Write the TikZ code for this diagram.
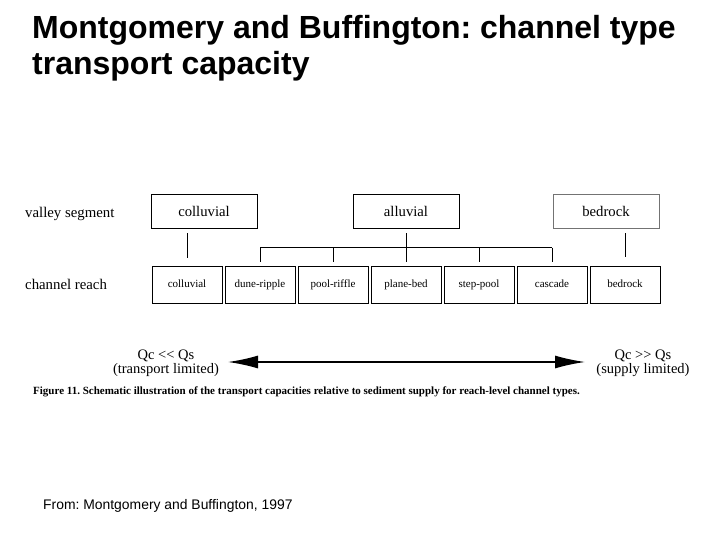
\documentclass[tikz,border=0pt]{standalone}
\usepackage{fontspec}
\setmainfont{Liberation Serif}
\newfontfamily\arial{Liberation Sans}
\usetikzlibrary{arrows.meta, positioning}
\frenchspacing
\tikzset{
  seg/.style={draw, line width=0.8pt, minimum width=106pt, minimum height=34pt, font=\fontsize{14.7}{16}\selectfont},
  reach/.style={draw, line width=0.8pt, minimum width=70pt, minimum height=37pt, text height=1.5ex, text depth=.3ex, font=\fontsize{11}{13}\selectfont},
  lab/.style={anchor=base west, inner sep=0pt, font=\fontsize{14.8}{16}\selectfont},
  link/.style={line width=1pt},
  qlab/.style={align=center, inner sep=0pt, font=\fontsize{14.5}{14}\selectfont},
  head/.style={anchor=base west, inner sep=0pt, font=\arial\bfseries\fontsize{32}{36}\selectfont}
}

\begin{document}
\begin{tikzpicture}[x=1pt, y=-1pt]
  \useasboundingbox[fill=white] (0,0) rectangle (720,540);
  \node[head] (title1) at (32,39) {Montgomery and Buffington: channel type};
  \node[head] (title2) at (32,75) {transport capacity};

  \node[lab] (lv) at (25,218) {valley segment};
  \node[lab] (lr) at (25,289) {channel reach};

  \node[seg] (vc) at (204,211) {colluvial};
  \node[seg] (va) at (406,211) {alluvial};
  \node[seg, draw=black!55] (vb) at (606,211) {bedrock};

  \foreach \lbl [count=\i] in {colluvial, dune-ripple, pool-riffle, plane-bed, step-pool, cascade, bedrock}
    \node[reach] (r\i) at ({187+73*(\i-1)},284.5) {\lbl};

  \draw[link, shorten <=5pt, shorten >=8pt] (vc.south -| r1) -- (r1.north);
  \draw[link, shorten <=5pt, shorten >=4pt] (va.south) -- (r4.north);
  \draw[link, shorten <=5pt, shorten >=9pt] (vb.south -| r7) -- (r7.north);
  \draw[link] ([yshift=18pt]r2.north) -- ([yshift=18pt]r6.north);
  \foreach \i in {2,3,5,6}
    \draw[link] ([yshift=18pt]r\i.north) -- ([yshift=4pt]r\i.north);

  \coordinate (al) at (228,362);
  \coordinate (ar) at (585,362);
  \draw[line width=1.5pt, {Latex[length=30pt,width=13pt]}-{Latex[length=30pt,width=13pt]}] (al) -- (ar);
  \node[qlab] (ql) at (166,363) {Qc <{}< Qs\\(transport limited)};
  \node[qlab] (qr) at (643,363) {Qc >{}> Qs\\(supply limited)};

  \node[anchor=base west, inner sep=0pt, font=\bfseries\fontsize{11}{12}\selectfont] (cap) at (33,394)
    {Figure 11. Schematic illustration of the transport capacities relative to sediment supply for reach-level channel types.};

  \node[anchor=base west, inner sep=0pt, font=\arial\fontsize{13.9}{15}\selectfont] (src) at (43,509)
    {From: Montgomery and Buffington, 1997};
\end{tikzpicture}
\end{document}
